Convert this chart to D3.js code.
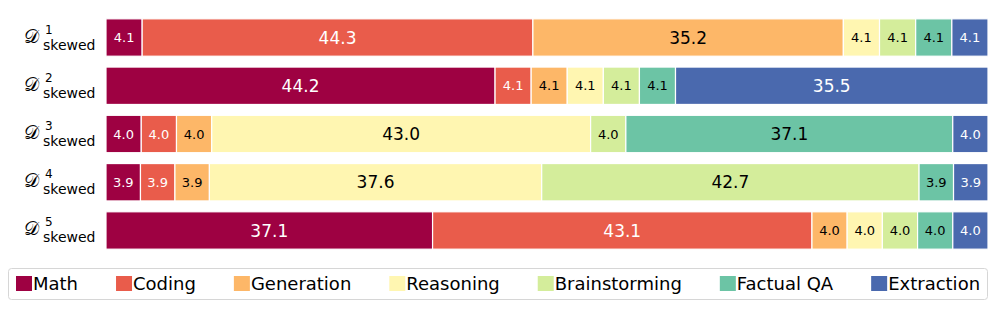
<!DOCTYPE html>
<html>
<head>
<meta charset="utf-8">
<script src="https://cdn.jsdelivr.net/npm/d3@7"></script>
<style>
  body { margin: 0; background: #fff; }
  svg { font-family: "DejaVu Sans", sans-serif; display: block; }
</style>
</head>
<body>
<svg id="chart" width="997" height="309"></svg>
<script>
// categories (stack order, left to right)
const categories = ["Math", "Coding", "Generation", "Reasoning", "Brainstorming", "Factual QA", "Extraction"]
const colors = ["#9e0142", "#e95c4b", "#fdb768", "#fff6b1", "#d4ed9b", "#6cc4a5", "#4a69ae"]
const darkText = [false, false, true, true, true, true, false]

// one row per skewed dataset
const rows = ["1", "2", "3", "4", "5"]
const math          = [4.1, 44.2, 4.0, 3.9, 37.1]
const coding        = [44.3, 4.1, 4.0, 3.9, 43.1]
const generation    = [35.2, 4.1, 4.0, 3.9, 4.0]
const reasoning     = [4.1, 4.1, 43.0, 37.6, 4.0]
const brainstorming = [4.1, 4.1, 4.0, 42.7, 4.0]
const factualQA     = [4.1, 4.1, 37.1, 3.9, 4.0]
const extraction    = [4.1, 35.5, 4.0, 3.9, 4.0]

const series = [math, coding, generation, reasoning, brainstorming, factualQA, extraction]

// build table for d3.stack
const table = rows.map(function(r, i) {
  var o = { row: r }
  categories.forEach(function(c, j) { o[c] = series[j][i] })
  return o
})

const stacked = d3.stack().keys(categories).offset(d3.stackOffsetExpand)(table)

const svg = d3.select("#chart")
const left = 106, right = 988

const x = d3.scaleLinear().domain([0, 1]).range([left, right])
const y = d3.scaleBand().domain(rows).range([14, 254]).paddingInner(0.225).paddingOuter(0.1)

const layers = svg.selectAll(".layer")
  .data(stacked)
  .enter()
  .append("g")
  .attr("class", "layer")

layers.selectAll("rect")
  .data(function(d) { return d.map(function(p) { p.key = d.key; p.idx = d.index; return p }) })
  .enter()
  .append("rect")
  .attr("x", function(d) { return x(d[0]) })
  .attr("y", function(d) { return y(d.data.row) })
  .attr("width", function(d) { return x(d[1]) - x(d[0]) })
  .attr("height", y.bandwidth())
  .attr("fill", function(d) { return colors[d.idx] })
  .attr("stroke", "#fff")
  .attr("stroke-width", 1.2)

// value labels
layers.selectAll("text")
  .data(function(d) { return d })
  .enter()
  .append("text")
  .attr("x", function(d) { return (x(d[0]) + x(d[1])) / 2 })
  .attr("y", function(d) { return y(d.data.row) + y.bandwidth() / 2 })
  .attr("dy", "0.36em")
  .attr("text-anchor", "middle")
  .style("font-size", function(d) { return d.data[d.key] > 10 ? "17px" : "13px" })
  .attr("fill", function(d) { return darkText[d.idx] ? "#000" : "#fff" })
  .text(function(d) { return d.data[d.key].toFixed(1) })

// y axis labels: D^i_skewed
const ylab = svg.selectAll(".ylab")
  .data(rows)
  .enter()
  .append("g")
  .attr("class", "ylab")
  .attr("transform", function(d) { return "translate(0," + (y(d) + y.bandwidth() / 2) + ")" })

ylab.append("text")
  .attr("x", 24)
  .attr("y", 5)
  .style("font-size", "19px")
  .style("font-family", "'DejaVu Sans', sans-serif")
  .text("𝒟")

ylab.append("text")
  .attr("x", 45)
  .attr("y", -4)
  .style("font-size", "12px")
  .text(function(d) { return d })

ylab.append("text")
  .attr("x", 43)
  .attr("y", 12)
  .style("font-size", "14px")
  .text("skewed")

// legend
const legend = svg.append("g")
legend.append("rect")
  .attr("x", 8.5).attr("y", 268.5)
  .attr("width", 979).attr("height", 31)
  .attr("rx", 3)
  .attr("fill", "#fff")
  .attr("stroke", "#d6d6d6")

var lx = 16
categories.forEach(function(c, i) {
  legend.append("rect")
    .attr("x", lx).attr("y", 276)
    .attr("width", 16).attr("height", 15)
    .attr("fill", colors[i])
  var t = legend.append("text")
    .attr("x", lx + 17).attr("y", 290)
    .style("font-size", "18px")
    .text(c)
  lx += 17 + t.node().getComputedTextLength() + 38
})
</script>
</body>
</html>
